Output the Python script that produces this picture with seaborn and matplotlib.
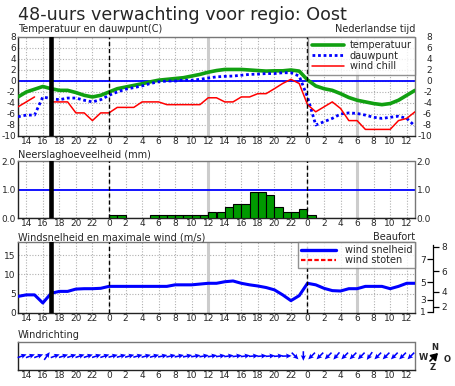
import numpy as np
import pandas as pd
import matplotlib
matplotlib.use("Agg")
import matplotlib.pyplot as plt
from matplotlib.lines import Line2D
import seaborn as sns

# ---------------- data ----------------
hours = np.arange(13, 62)  # hourly forecast steps (13:00 day 1 .. 13:00 day 3)
temperature = [-2.9, -2.0, -1.5, -1.0, -1.4, -1.7, -1.7, -2.1, -2.6, -2.9,
               -2.6, -2.0, -1.4, -1.1, -0.8, -0.5, -0.15, 0.15, 0.3, 0.45,
               0.6, 0.9, 1.2, 1.6, 1.9, 2.1, 2.1, 2.1, 2.0, 1.9,
               1.8, 1.85, 1.85, 2.0, 1.8, 0.2, -0.9, -1.4, -1.7, -2.3,
               -3.0, -3.5, -3.8, -4.1, -4.3, -4.1, -3.5, -2.6, -1.7]
dewpoint = [-6.5, -6.2, -6.2, -2.9, -3.2, -3.4, -3.1, -3.1, -3.5, -3.8,
            -3.4, -2.6, -2.0, -1.5, -1.2, -0.9, -0.45, -0.15, 0.0, 0.0,
            0.15, 0.15, 0.3, 0.55, 0.75, 0.85, 0.9, 1.05, 1.2, 1.25,
            1.35, 1.35, 1.5, 1.5, 0.9, -2.9, -8.0, -7.4, -6.8, -6.0,
            -5.8, -5.9, -6.2, -6.6, -6.8, -6.6, -6.4, -6.8, -8.2]
windchill = [-4.7, -3.8, -2.9, np.nan, -3.8, -3.8, -3.8, -5.8, -5.8, -7.2,
             -5.8, -5.8, -4.8, -4.8, -4.8, -3.8, -3.8, -3.8, -4.3, -4.3,
             -4.3, -4.3, -4.3, -3.05, -3.05, -3.8, -3.8, -2.9, -2.9, -2.3,
             -2.3, -1.4, -0.45, 0.3, -0.45, -4.3, -5.6, -4.7, -3.8, -5.0,
             -7.2, -7.2, -8.8, -8.8, -8.8, -8.8, -7.2, -6.8, -5.6]
windspeed = [4.3, 4.7, 4.7, 2.6, 5.1, 5.6, 5.6, 6.2, 6.3, 6.3,
             6.4, 6.9, 6.9, 6.9, 6.9, 6.9, 6.9, 6.9, 6.9, 7.3,
             7.3, 7.3, 7.5, 7.7, 7.7, 8.1, 8.3, 7.7, 7.3, 7.0,
             6.6, 6.0, 4.7, 3.2, 4.5, 7.7, 7.3, 6.4, 5.8, 5.7,
             6.3, 6.3, 6.9, 6.9, 6.9, 6.3, 6.9, 7.7, 7.7]

bin_hours = np.arange(13, 61)  # hourly intervals [h, h+1)
precip = [0, 0, 0, 0, 0, 0, 0, 0, 0, 0, 0,
          0.1, 0.1, 0, 0, 0, 0.1, 0.1, 0.1, 0.1, 0.1, 0.1, 0.1,
          0.2, 0.2, 0.4, 0.5, 0.5, 0.9, 0.9, 0.8, 0.4, 0.2, 0.2, 0.3,
          0.1, 0, 0, 0, 0, 0, 0, 0, 0, 0, 0, 0, 0]
# wind direction (degrees, where the wind comes from) per hourly interval
winddir = [250, 250, 250, 215, 250, 252, 252, 252, 252, 252,
           252, 255, 255, 255, 255, 255, 255, 258, 258, 258,
           258, 260, 260, 260, 262, 262, 262, 262, 265, 265,
           265, 265, 268, 315, 0, 45, 45, 45, 40, 45,
           45, 45, 35, 45, 45, 45, 45, 45]

now_hour = 17
midnights = [24, 48]
grey_marks = [36, 54]
bft_numbers = [1, 2, 3, 4, 5, 6, 7, 8]
bft_lower_ms = [0.3, 1.6, 3.4, 5.5, 8.0, 10.8, 13.9, 17.2]

title = "48-uurs verwachting voor regio: Oost"
xtick_hours = np.arange(14, 61, 2)
xtick_labels = [str(h % 24) for h in xtick_hours]

# ---------------- style ----------------
sns.set_theme(style="white")
plt.rcParams["font.family"] = ["DejaVu Sans"]
GREEN = "#11a011"
BLUE = "#0000ff"
RED = "#ff0000"
FRAME = "#777777"
GRID = "#b0b0b0"
TICKFS = 6.5
LABFS = 7

W, H = 455, 386
fig = plt.figure(figsize=(W / 100, H / 100), dpi=100)
fig.patch.set_facecolor("white")


def box(l, t, r, b):
    return [l / W, 1 - b / H, (r - l) / W, (b - t) / H]


ax1 = fig.add_axes(box(18, 37, 415, 136))
ax2 = fig.add_axes(box(18, 161, 415, 218))
ax3 = fig.add_axes(box(18, 242, 415, 313))
ax4 = fig.add_axes(box(18, 342, 415, 370))


def base(ax, yticks=None, ygrid=None, xgrid=True):
    ax.set_xlim(13, 61)
    ax.set_xticks(xtick_hours)
    ax.set_xticklabels(xtick_labels)
    ax.tick_params(axis="x", length=0, pad=1, labelsize=TICKFS)
    for s in ["top", "right"]:
        ax.spines[s].set_color(FRAME)
        ax.spines[s].set_linewidth(1)
        ax.spines[s].set_linestyle((0, (1, 1)))
    for s in ["left", "bottom"]:
        ax.spines[s].set_color("#222222")
        ax.spines[s].set_linewidth(1)
    if yticks is None:
        ax.set_yticks([])
    else:
        ax.set_yticks(yticks[0])
        ax.set_yticklabels(yticks[1])
        ax.tick_params(axis="y", length=0, pad=1.5, labelsize=TICKFS)
    if xgrid:
        for h in xtick_hours:
            ax.axvline(h, color=GRID, lw=0.8, ls=(0, (1, 1.5)), zorder=0.5)
    if ygrid is not None:
        for v in ygrid:
            ax.axhline(v, color=GRID, lw=0.8, ls=(0, (1, 1.5)), zorder=0.5)


def marks(ax):
    for h in grey_marks:
        ax.axvline(h, color="#cccccc", lw=2.2, zorder=0.6)
    ax.axvline(now_hour, color="black", lw=3.3, zorder=4)
    for h in midnights:
        ax.axvline(h, color="black", lw=1, ls=(0, (3, 2)), zorder=4)


def right_labels(ax, ticks, labels, xr):
    # right-hand tick labels, right-aligned so they end at pixel x = xr
    tw = ax.twinx()
    tw.set_ylim(ax.get_ylim())
    tw.set_yticks(ticks, labels)
    tw.tick_params(axis="y", length=0, labelsize=TICKFS)
    for t in tw.yaxis.get_major_ticks():
        t.label2.set_horizontalalignment("right")
        t.set_pad((xr - 415) * 0.72)
    for s in tw.spines.values():
        s.set_visible(False)
    tw.grid(False)
    return tw


def clean(ax):
    ax.set_xlabel("")
    ax.set_ylabel("")


# ---- panel 1: temperature ----
yt = np.arange(-10, 9, 2)
yl = [str(v) for v in yt]
base(ax1, (yt, yl), ygrid=yt)
ax1.set_ylim(-10, 8)
marks(ax1)
ax1.axhline(0, color=BLUE, lw=1.3, zorder=2)
sns.lineplot(x=hours, y=temperature, ax=ax1, color=GREEN, lw=2.6, zorder=3)
sns.lineplot(x=hours, y=dewpoint, ax=ax1, color=BLUE, lw=2.0,
             linestyle=(0, (1, 1)), zorder=3)
wc = np.asarray(windchill, float)
ok = np.flatnonzero(np.isfinite(wc))
for g in np.split(ok, np.flatnonzero(np.diff(ok) > 1) + 1):
    sns.lineplot(x=hours[g], y=wc[g], ax=ax1, color=RED, lw=1.1, zorder=3)
clean(ax1)
ax1.set_xlim(13, 61)
h1 = [Line2D([], [], color=GREEN, lw=2.6),
      Line2D([], [], color=BLUE, lw=2.0, ls=(0, (1, 1))),
      Line2D([], [], color=RED, lw=1.1)]
leg = ax1.legend(h1, ["temperatuur", "dauwpunt", "wind chill"],
                 loc="upper right", borderaxespad=0, frameon=True,
                 fancybox=False, fontsize=LABFS, handlelength=3.3,
                 handletextpad=0.6, borderpad=0.35, labelspacing=0.05)
leg.get_frame().set_edgecolor(FRAME)
leg.get_frame().set_linewidth(1)
leg.set_zorder(10)
right_labels(ax1, yt, yl, 432)

# ---- panel 2: precipitation ----
pt = [0.0, 1.0, 2.0]
pl = ["0.0", "1.0", "2.0"]
base(ax2, (pt, pl))
precip_df = pd.DataFrame({"hour": bin_hours, "mm": precip})
sns.histplot(data=precip_df, x="hour", weights="mm", binwidth=1,
             binrange=(13, 61), ax=ax2, color="#009a00", edgecolor="black",
             linewidth=0.8, alpha=1, zorder=3)
ax2.set_ylim(0, 2)
ax2.set_xlim(13, 61)
clean(ax2)
marks(ax2)
ax2.axhline(1.0, color=BLUE, lw=1.3, zorder=2)
right_labels(ax2, pt, pl, 431)

# ---- panel 3: wind speed ----
wt = [0, 5, 10, 15]
base(ax3, (wt, [str(v) for v in wt]), ygrid=[5, 10, 15])
ax3.set_ylim(0, 18.4)
marks(ax3)
sns.lineplot(x=hours, y=windspeed, ax=ax3, color=BLUE, lw=2.2, zorder=3)
clean(ax3)
ax3.set_xlim(13, 61)
h3 = [Line2D([], [], color=BLUE, lw=2.4),
      Line2D([], [], color=RED, lw=1.6, ls=(0, (2, 1)))]
leg3 = ax3.legend(h3, ["wind snelheid", "wind stoten"], loc="upper right",
                  borderaxespad=0, frameon=True, fancybox=False,
                  fontsize=LABFS, handlelength=3.6, handletextpad=0.9,
                  borderpad=0.3, labelspacing=0.05)
leg3.get_frame().set_edgecolor(FRAME)
leg3.get_frame().set_linewidth(1)
leg3.set_zorder(10)

# Beaufort scale axis
pos3 = ax3.get_position()
axb = fig.add_axes([433 / W, pos3.y0, 0.0001, pos3.height])
axb.set_ylim(ax3.get_ylim())
axb.set_xticks([])
for s in ["top", "right", "bottom"]:
    axb.spines[s].set_visible(False)
axb.spines["left"].set_bounds(bft_lower_ms[0], bft_lower_ms[-1] + 0.4)
axb.spines["left"].set_color("black")
axb.spines["left"].set_linewidth(0.9)
axb.patch.set_alpha(0)
axb.set_yticks(bft_lower_ms[0::2], [str(n) for n in bft_numbers[0::2]])
axb.set_yticks(bft_lower_ms[1::2], [str(n) for n in bft_numbers[1::2]],
               minor=True)
axb.tick_params(axis="y", which="major", left=True, right=False,
                labelleft=True, labelright=False, length=4, width=0.9,
                pad=1, labelsize=TICKFS, color="black")
axb.tick_params(axis="y", which="minor", left=False, right=True,
                labelleft=False, labelright=True, length=4, width=0.9,
                pad=2, labelsize=TICKFS, color="black")

# ---- panel 4: wind direction ----
base(ax4, xgrid=False)
ax4.set_ylim(-1, 1)
b = np.deg2rad(np.asarray(winddir, float) + 180.0)
ax4.quiver(bin_hours + 0.5, np.zeros(len(bin_hours)), np.sin(b), np.cos(b),
           angles="uv", pivot="middle", scale_units="inches", scale=10.5,
           width=0.004, headwidth=3.2, headlength=3.5, headaxislength=3.0,
           color=BLUE, zorder=3, clip_on=False)

# ---- texts ----
fig.text(18 / W, 1 - 20 / H, title, fontsize=12.6, va="baseline", ha="left")
fig.text(18 / W, 1 - 29.5 / H, "Temperatuur en dauwpunt(C)", fontsize=LABFS,
         va="center", ha="left")
fig.text(415 / W, 1 - 29.5 / H, "Nederlandse tijd", fontsize=LABFS,
         va="center", ha="right")
fig.text(18 / W, 1 - 155.5 / H, "Neerslaghoeveelheid (mm)", fontsize=LABFS,
         va="center", ha="left")
fig.text(18 / W, 1 - 237.5 / H, "Windsnelheid en maximale wind (m/s)",
         fontsize=LABFS, va="center", ha="left")
fig.text(415 / W, 1 - 237 / H, "Beaufort", fontsize=LABFS, va="center",
         ha="right")
fig.text(18 / W, 1 - 335.5 / H, "Windrichting", fontsize=LABFS, va="center",
         ha="left")

# compass
for lab, (cx, cy) in {"N": (435, 347), "W": (423, 358), "O": (447, 359),
                      "Z": (433, 368)}.items():
    fig.text(cx / W, 1 - cy / H, lab, fontsize=6, ha="center", va="center",
             weight="bold")
fig.patches.append(matplotlib.patches.FancyArrowPatch(
    (428 / W, 1 - 363 / H), (440 / W, 1 - 351 / H),
    transform=fig.transFigure, arrowstyle="-|>,head_length=4,head_width=2.5",
    color="black", lw=1.2, mutation_scale=1))

fig.savefig("out.png", dpi=100, facecolor="white")
